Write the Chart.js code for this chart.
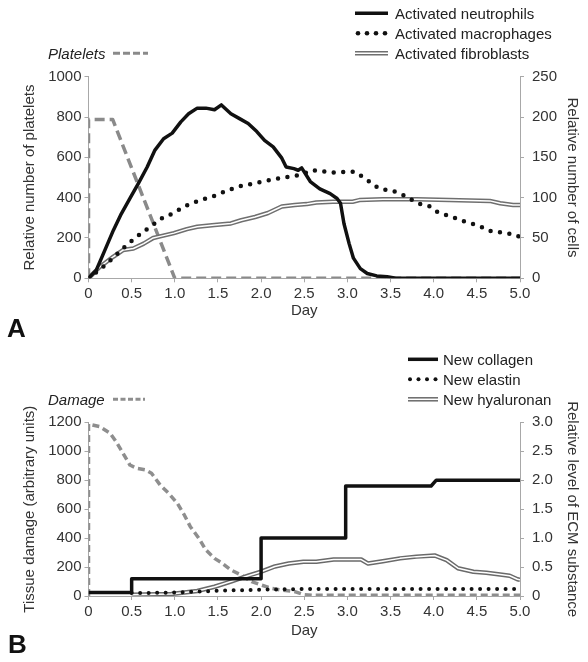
<!DOCTYPE html>
<html><head><meta charset="utf-8">
<script src="https://cdn.jsdelivr.net/npm/chart.js@4.4.0/dist/chart.umd.min.js"></script>
<style>
html,body{margin:0;padding:0;background:#fff;}
body{width:588px;height:662px;position:relative;overflow:hidden;font-family:"Liberation Sans",Arial,sans-serif;color:#222;}
.panel{position:absolute;left:0;width:588px;}
.lbl{position:absolute;font-size:15px;line-height:18px;white-space:nowrap;color:#222;}
.it{font-style:italic;}
.big{position:absolute;font-weight:bold;font-size:26px;line-height:30px;color:#111;}
#leg{position:absolute;left:0;top:0;pointer-events:none;}
</style></head><body>
<div class="panel" style="top:0;height:330px"><canvas id="cA" width="588" height="330"></canvas></div>
<div class="panel" style="top:330px;height:332px"><canvas id="cB" width="588" height="332"></canvas></div>

<svg id="leg" width="588" height="662">
  <line x1="355" y1="13.3" x2="388" y2="13.3" stroke="#111" stroke-width="3.5"/>
  <circle cx="358" cy="33.3" r="2.3" fill="#111"/><circle cx="367" cy="33.3" r="2.3" fill="#111"/>
  <circle cx="376" cy="33.3" r="2.3" fill="#111"/><circle cx="385" cy="33.3" r="2.3" fill="#111"/>
  <line x1="355" y1="53.3" x2="388" y2="53.3" stroke="#6f6f6f" stroke-width="4.5"/>
  <line x1="355" y1="53.3" x2="388" y2="53.3" stroke="#fff" stroke-width="1.5"/>
  <line x1="113" y1="53.3" x2="148" y2="53.3" stroke="#8a8a8a" stroke-width="3" stroke-dasharray="7 3"/>

  <line x1="408" y1="359.3" x2="438" y2="359.3" stroke="#111" stroke-width="3.5"/>
  <circle cx="410" cy="379.3" r="2" fill="#111"/><circle cx="418.5" cy="379.3" r="2" fill="#111"/>
  <circle cx="427" cy="379.3" r="2" fill="#111"/><circle cx="435.5" cy="379.3" r="2" fill="#111"/>
  <line x1="408" y1="399.3" x2="438" y2="399.3" stroke="#6a6a6a" stroke-width="4.5"/>
  <line x1="408" y1="399.3" x2="438" y2="399.3" stroke="#fff" stroke-width="1.5"/>
  <line x1="113" y1="399.3" x2="145" y2="399.3" stroke="#8e8e8e" stroke-width="3" stroke-dasharray="5 2.5"/>
</svg>

<div class="lbl" style="left:395px;top:4.5px">Activated neutrophils</div>
<div class="lbl" style="left:395px;top:24.5px">Activated macrophages</div>
<div class="lbl" style="left:395px;top:44.5px">Activated fibroblasts</div>
<div class="lbl it" style="left:48px;top:44.5px">Platelets</div>
<div class="lbl" style="left:443px;top:350.5px">New collagen</div>
<div class="lbl" style="left:443px;top:370.5px">New elastin</div>
<div class="lbl" style="left:443px;top:390.5px">New hyaluronan</div>
<div class="lbl it" style="left:48px;top:390.5px">Damage</div>
<div class="big" style="left:7px;top:312.8px">A</div>
<div class="big" style="left:8px;top:629.3px">B</div>

<script>
// ---------- tick labels ----------
const dayTicks = ['0','0.5','1.0','1.5','2.0','2.5','3.0','3.5','4.0','4.5','5.0'];
const plateletTicks = ['0','200','400','600','800','1000'];
const cellTicks = ['0','50','100','150','200','250'];
const damageTicks = ['0','200','400','600','800','1000','1200'];
const ecmTicks = ['0','0.5','1.0','1.5','2.0','2.5','3.0'];

// ---------- Panel A data ----------
const plateletDays   = [0, 0, 0.28, 1.0, 5.0];
const plateletValues = [0, 788, 788, 0, 0];

const neutroDays   = [0,0.09,0.19,0.29,0.38,0.48,0.58,0.68,0.77,0.87,0.97,1.07,1.16,1.26,1.36,1.46,1.54,1.65,1.75,1.85,1.95,2.04,2.14,2.24,2.29,2.38,2.43,2.47,2.57,2.68,2.80,2.88,2.92,2.96,3.02,3.07,3.15,3.23,3.34,3.46,3.56,5.0];
const neutroValues = [0,10,35,60,80,99,118,138,159,173,180,194,204,211,211,209,215,204,198,192,182,171,163,149,138,136,134,137,120,111,105,99,93,68,43,25,12,6,3,2,0,0];

const macroDays   = [0,0.19,0.44,0.54,0.64,0.87,0.97,1.11,1.22,1.36,1.48,1.61,1.75,1.89,2.02,2.16,2.32,2.45,2.6,2.7,2.8,3.0,3.09,3.16,3.24,3.33,3.41,3.51,3.61,3.69,3.78,3.87,3.96,4.03,4.13,4.22,4.31,4.40,4.50,4.59,4.67,4.77,4.86,4.96,5.0];
const macroValues = [0,16,41,50,58,76,80,89,94,99,103,109,114,117,120,123,126,128,134,133,131,132,132,127,121,114,110,109,105,101,95,91,89,83,79,76,72,69,66,62,58,57,56,52,52];

const fibroDays   = [0,0.13,0.29,0.40,0.52,0.64,0.75,0.83,0.99,1.14,1.26,1.46,1.65,1.77,1.93,2.08,2.24,2.39,2.53,2.64,2.83,3.06,3.14,3.41,3.80,4.18,4.65,4.77,4.92,5.0];
const fibroValues = [0,14,27,35,37,43,50,52,56,61,64,66,68,72,76,81,89,91,92,94,95,95,97,98,98,97,96,93,91,91];

// ---------- Panel B data ----------
const damageDays   = [0,0,0.13,0.25,0.32,0.40,0.48,0.56,0.66,0.73,0.83,0.93,1.03,1.11,1.18,1.28,1.36,1.46,1.55,1.65,1.77,1.89,2.0,2.12,2.24,2.39,2.49,2.6,5.0];
const damageValues = [0,1188,1170,1124,1066,986,905,882,871,848,767,709,640,560,479,398,318,260,226,180,145,99,76,53,41,30,10,5,5];

const collagenDays   = [0,0.5,0.5,2.0,2.0,2.98,2.98,3.97,4.03,5.0];
const collagenValues = [0.06,0.06,0.3,0.3,1.0,1.0,1.9,1.9,2.0,2.0];

const elastinDays   = [0.5,1.0,1.25,1.5,1.75,2.0,2.5,3.0,3.5,4.0,4.5,5.0];
const elastinValues = [0.05,0.06,0.075,0.09,0.1,0.11,0.12,0.12,0.12,0.12,0.12,0.12];

const hyalDays   = [0.5,0.96,1.26,1.46,1.65,1.85,2.0,2.16,2.32,2.49,2.64,2.84,2.99,3.16,3.24,3.41,3.61,3.80,4.01,4.15,4.28,4.46,4.61,4.77,4.88,4.97,5.0];
const hyalValues = [0.02,0.035,0.086,0.16,0.25,0.35,0.42,0.51,0.56,0.59,0.59,0.63,0.63,0.63,0.56,0.60,0.65,0.68,0.70,0.62,0.48,0.42,0.40,0.37,0.35,0.29,0.28];

// ---------- helpers ----------
const FAM = '"Liberation Sans", Arial, sans-serif';
const TXT = '#333';
const AX = '#a8a8a8';
const pts = (xs, ys) => xs.map((x, i) => ({x: x, y: ys[i]}));

function xScale(h) {
  return {
    type: 'linear', position: 'bottom', min: 0, max: 5,
    afterFit: s => { s.height = h; },
    ticks: { stepSize: 0.5, autoSkip: false, maxRotation: 0, padding: 3, color: TXT,
             font: {size: 15, family: FAM}, callback: v => dayTicks[Math.round(v * 2)] },
    grid: { display: true, drawOnChartArea: false, drawTicks: true, tickLength: 4, color: AX },
    border: { display: true, color: AX },
    title: { display: true, text: 'Day', color: TXT, font: {size: 15, family: FAM}, padding: 0 }
  };
}
function yScale(pos, max, step, labels, title, w) {
  return {
    type: 'linear', position: pos, min: 0, max: max,
    afterFit: s => { s.width = w; },
    ticks: { stepSize: step, autoSkip: false, padding: pos === 'left' ? 3 : 8, color: TXT,
             font: {size: 15, family: FAM}, callback: v => labels[Math.round(v / step)] },
    grid: { display: true, drawOnChartArea: false, drawTicks: true, tickLength: 4, color: AX },
    border: { display: true, color: AX },
    title: { display: true, text: title, color: TXT, font: {size: 15, family: FAM}, padding: 0 }
  };
}
function ds(data, axis, color, width, dash, order, cap) {
  return { data: data, yAxisID: axis, borderColor: color, borderWidth: width,
           borderDash: dash || [], borderCapStyle: cap || 'butt', borderJoinStyle: 'round',
           pointRadius: 0, fill: false, tension: 0, order: order };
}
const common = (pad) => ({
  responsive: false, animation: false, events: [],
  layout: { padding: pad },
  plugins: { legend: {display: false}, tooltip: {enabled: false} }
});

// ---------- Chart A ----------
new Chart(document.getElementById('cA'), {
  type: 'line',
  data: { datasets: [
    ds(pts(neutroDays, neutroValues), 'y1', '#111', 3.5, null, 0),
    ds(pts(macroDays, macroValues), 'y1', '#111', 4.5, [0, 9.5], 1, 'round'),
    ds(pts(fibroDays, fibroValues), 'y1', '#ffffff', 1.5, null, 2),
    ds(pts(fibroDays, fibroValues), 'y1', '#6f6f6f', 4.5, null, 3),
    ds(pts(plateletDays, plateletValues), 'y', '#8a8a8a', 3.5, [10, 5], 4)
  ]},
  options: Object.assign(common({left: 21, right: 7, top: 76.7, bottom: 10.6}), {
    scales: {
      x: xScale(41.1),
      y: yScale('left', 1000, 200, plateletTicks, 'Relative number of platelets', 67.5),
      y1: yScale('right', 250, 50, cellTicks, 'Relative number of cells', 61)
    }
  })
});

// ---------- Chart B ----------
new Chart(document.getElementById('cB'), {
  type: 'line',
  data: { datasets: [
    ds(pts(collagenDays, collagenValues), 'y1', '#111', 3.5, null, 0),
    ds(pts(elastinDays, elastinValues), 'y1', '#111', 4, [0, 8.5], 1, 'round'),
    ds(pts(hyalDays, hyalValues), 'y1', '#ffffff', 1.5, null, 2),
    ds(pts(hyalDays, hyalValues), 'y1', '#6a6a6a', 4.5, null, 3),
    ds(pts(damageDays, damageValues), 'y', '#8e8e8e', 3.5, [7, 4], 4)
  ]},
  options: Object.assign(common({left: 21, right: 7, top: 92.3, bottom: 22}), {
    scales: {
      x: xScale(44),
      y: yScale('left', 1200, 200, damageTicks, 'Tissue damage (arbitrary units)', 67.5),
      y1: yScale('right', 3, 0.5, ecmTicks, 'Relative level of ECM substance', 61)
    }
  })
});
</script>
</body></html>
